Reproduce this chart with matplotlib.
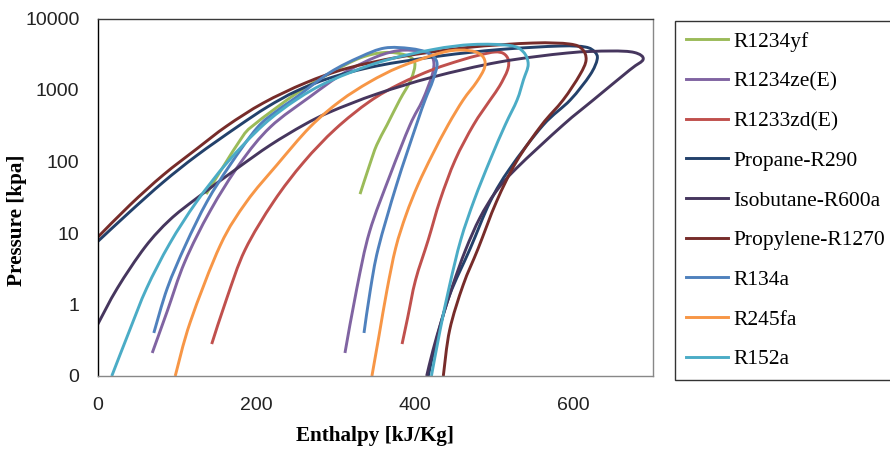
import numpy as np
import matplotlib
matplotlib.use('Agg')
import matplotlib.pyplot as plt
from matplotlib.path import Path
from matplotlib.patches import PathPatch
from matplotlib.lines import Line2D
from matplotlib.ticker import FixedLocator, FixedFormatter, NullLocator

# saturation domes, enthalpy [kJ/kg] vs pressure [kPa]
r1234yf_h = [137, 180, 197, 251, 293, 331, 362, 388, 400, 395, 381, 365, 352, 343, 331]
r1234yf_p = [35, 200, 324, 900, 1713, 2804, 3345, 3090, 2410, 1380, 724, 324, 170, 89, 35]

r1234ze_h = [69, 88, 110, 142, 180, 218, 268, 310, 352, 381, 406, 419, 424, 422, 410, 394, 369, 343, 327, 312]
r1234ze_p = [0.21, 0.81, 3.93, 20.3, 95, 304, 806, 1713, 2923, 3568, 3510, 3185, 2464, 1622, 724, 324, 65, 10.4, 1.69, 0.21]

r1233zd_h = [144, 163, 186, 222, 260, 300, 343, 381, 423, 457, 482, 501, 512, 518, 517, 507, 495, 474, 451, 432, 417, 401, 391, 384]
r1233zd_p = [0.28, 1.22, 5.8, 27.4, 98, 285, 690, 1213, 1937, 2588, 3090, 3400, 3236, 2630, 1905, 1138, 724, 324, 105, 29, 8.0, 2.2, 0.65, 0.28]

propane_h = [0, 41, 83, 125, 176, 214, 251, 293, 352, 432, 507, 583, 615, 627, 630, 621, 596, 562, 520, 495, 470, 444, 428, 417]
propane_p = [7.55, 19.9, 51.6, 121, 304, 578, 968, 1472, 2168, 2992, 3682, 4121, 3990, 3400, 2686, 1622, 724, 324, 80, 27.4, 6.1, 1.36, 0.34, 0.1]

isobutane_h = [0, 25, 60, 91, 125, 176, 218, 260, 293, 352, 423, 507, 592, 646, 677, 688, 671, 625, 587, 528, 502, 482, 464, 448, 434, 423, 415]
isobutane_p = [0.52, 1.69, 6.37, 15.2, 30.6, 80, 170, 324, 492, 879, 1520, 2466, 3289, 3510, 3345, 2686, 1905, 724, 324, 80, 37.4, 16.2, 5.78, 1.87, 0.61, 0.23, 0.1]

propylene_h = [0, 41, 83, 125, 163, 209, 262, 314, 381, 466, 549, 595, 611, 616, 608, 587, 560, 528, 503, 480, 461, 444, 436]
propylene_p = [8.65, 24.7, 65, 150, 314, 658, 1254, 2000, 2897, 3930, 4540, 4400, 3740, 2630, 1622, 724, 324, 99, 27.4, 6.1, 1.87, 0.44, 0.1]

r134a_h = [71, 88, 111, 138, 167, 201, 226, 251, 293, 331, 362, 394, 417, 428, 423, 413, 402, 377, 354, 344, 336]
r134a_p = [0.4, 1.69, 6.8, 27.4, 89, 294, 508, 798, 1758, 2897, 3862, 3802, 3289, 2410, 1380, 724, 324, 47, 6.1, 1.6, 0.4]

r245fa_h = [98, 117, 155, 188, 226, 268, 306, 343, 381, 432, 457, 477, 487, 488, 478, 461, 442, 422, 404, 389, 376, 365, 355, 346]
r245fa_p = [0.1, 0.57, 6.8, 27.4, 89, 304, 701, 1294, 2100, 3289, 3620, 3400, 2804, 2051, 1294, 724, 324, 123, 47, 17.9, 6.2, 1.6, 0.37, 0.1]

r152a_h = [18, 41, 62, 91, 125, 164, 209, 251, 293, 356, 423, 473, 520, 537, 543, 537, 529, 514, 495, 475, 458, 444, 432, 421]
r152a_p = [0.1, 0.45, 1.69, 7.1, 27.4, 98, 324, 736, 1337, 2466, 3682, 4325, 4188, 3400, 2286, 1380, 724, 324, 105, 29, 8.0, 1.87, 0.44, 0.1]

names = ['R1234yf', 'R1234ze(E)', 'R1233zd(E)', 'Propane-R290', 'Isobutane-R600a',
         'Propylene-R1270', 'R134a', 'R245fa', 'R152a']
colors = ['#9BBB59', '#8064A2', '#C0504D', '#23416B', '#46365E',
          '#772C2A', '#4F81BD', '#F79646', '#4BACC6']
data = [(r1234yf_h, r1234yf_p), (r1234ze_h, r1234ze_p), (r1233zd_h, r1233zd_p),
        (propane_h, propane_p), (isobutane_h, isobutane_p), (propylene_h, propylene_p),
        (r134a_h, r134a_p), (r245fa_h, r245fa_p), (r152a_h, r152a_p)]

y_ticks = [0.1, 1, 10, 100, 1000, 10000]
y_labels = ['0', '1', '10', '100', '1000', '10000']
x_ticks = [0, 200, 400, 600]

X_MAX = 700
SX, SY = 555.0 / X_MAX, 357.5 / 5.0   # rough px per unit, only for smoothing handles


def smooth_path(h, p):
    # Excel style "smoothed line": cubic bezier segments through the points
    pts = np.column_stack([np.asarray(h, float) * SX, np.log10(p) * SY])
    n = len(pts)
    verts = [pts[0]]
    codes = [Path.MOVETO]
    for i in range(n - 1):
        p0 = pts[max(i - 1, 0)]
        p1 = pts[i]
        p2 = pts[i + 1]
        p3 = pts[min(i + 2, n - 1)]
        verts += [p1 + (p2 - p0) / 6, p2 - (p3 - p1) / 6, p2]
        codes += [Path.CURVE4] * 3
    verts = np.array(verts)
    return Path(np.column_stack([verts[:, 0] / SX, 10 ** (verts[:, 1] / SY)]), codes)


plt.rcParams['font.family'] = ['Liberation Sans', 'DejaVu Sans']

fig = plt.figure(figsize=(8.9, 4.49), dpi=100)
ax = fig.add_axes([97.5 / 890, 73 / 449, 555.2 / 890, 357.5 / 449])

ax.set_yscale('log')
ax.set_ylim(0.1, 10000)
ax.set_xlim(0, X_MAX)

handles = []
for name, (h, p), c in zip(names, data, colors):
    ax.add_patch(PathPatch(smooth_path(h, p), facecolor='none', edgecolor=c, lw=2.1,
                           capstyle='butt', joinstyle='round'))
    handles.append(Line2D([], [], color=c, lw=2.1))

ax.yaxis.set_major_locator(FixedLocator(y_ticks))
ax.yaxis.set_major_formatter(FixedFormatter(y_labels))
ax.yaxis.set_minor_locator(NullLocator())
ax.set_xticks(x_ticks)
ax.tick_params(length=0, labelsize=14, colors='#222222')
ax.tick_params(axis='x', pad=15)
ax.tick_params(axis='y', pad=13)

ax.spines['left'].set_color('black')
ax.spines['top'].set_color('#3a3a3a')
ax.spines['right'].set_color('#888888')
ax.spines['bottom'].set_color('#888888')
for s in ax.spines.values():
    s.set_linewidth(1.0)

fig.text(375 / 890, 1 - 436 / 449, 'Enthalpy [kJ/Kg]', family='Liberation Serif',
         weight='bold', size=15.2, ha='center', va='center')
fig.text(17 / 890, 1 - 220 / 449, 'Pressure [kpa]', family='Liberation Serif',
         weight='bold', size=15.2, ha='center', va='center', rotation=90)

leg = fig.legend(handles, names, loc='upper left', bbox_to_anchor=(675 / 890, 1 - 20.7 / 449),
                 frameon=True, fancybox=False, edgecolor='black',
                 prop={'family': 'Liberation Serif', 'size': 15.5},
                 handlelength=1.95, handletextpad=0.25, labelspacing=0.91,
                 borderpad=0.52, borderaxespad=0)
leg.get_frame().set_linewidth(1.0)

fig.savefig('out.png', dpi=100)
